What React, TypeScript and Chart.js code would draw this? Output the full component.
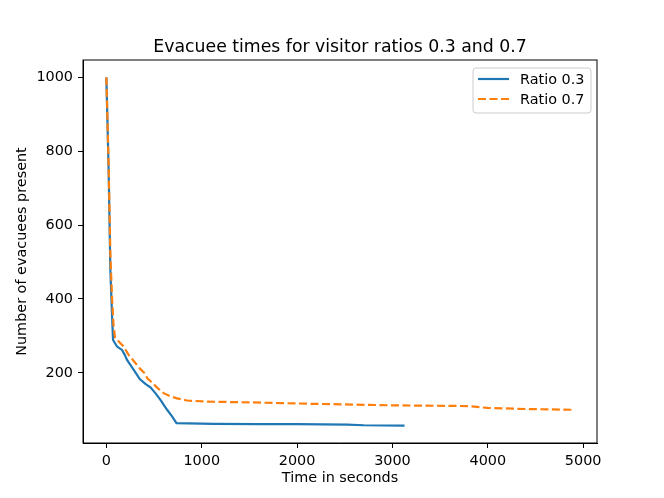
import { useEffect, useRef } from 'react';
import { Chart, registerables } from 'chart.js';

Chart.register(...registerables);

const CHART_TITLE = 'Evacuee times for visitor ratios 0.3 and 0.7';
const seriesNames = ['Ratio 0.3', 'Ratio 0.7'];

// Ratio 0.3: time (s) and number present
const timesLow = [
  0, 24, 42, 60, 70, 112, 140, 164, 190, 217, 250, 287, 320, 350, 409, 462, 514, 567, 600, 637, 689,
  735, 1126, 1600, 2000, 2525, 2700, 3127,
];
const countsLow = [
  1000, 746, 478, 352, 289, 271, 266, 262, 250, 235, 222, 208, 195, 183, 170, 161, 145, 127, 114,
  100, 82, 64, 62, 61, 61, 60, 58, 57,
];

// Ratio 0.7
const timesHigh = [
  0, 24, 42, 60, 75, 90, 130, 182, 230, 287, 350, 409, 427, 470, 532, 601, 672, 742, 847, 1056, 1500,
  1826, 2176, 3000, 3785, 3995, 4400, 4890,
];
const countsHigh = [
  1000, 760, 520, 400, 330, 296, 285, 271, 250, 232, 212, 197, 186, 176, 160, 145, 136, 131, 125,
  122, 120, 118, 116, 112, 110, 105, 102, 100,
];

const xTicks = [0, 1000, 2000, 3000, 4000, 5000];
const yTicks = [200, 400, 600, 800, 1000];

const BLUE = '#1f77b4';
const ORANGE = '#ff7f0e';
const FONT = 'DejaVu Sans';
const DASH = [8, 3.5];

const framePlugin = {
  id: 'frame',
  afterDraw(chart: Chart) {
    const { ctx, chartArea } = chart;
    const { left, top, right, bottom } = chartArea;
    ctx.save();
    // spines
    ctx.strokeStyle = '#000';
    ctx.lineWidth = 1;
    ctx.strokeRect(left, top, right - left, bottom - top);

    // title
    ctx.fillStyle = '#000';
    ctx.font = `17.3px "${FONT}"`;
    ctx.textAlign = 'center';
    ctx.textBaseline = 'alphabetic';
    ctx.fillText(CHART_TITLE, (left + right) / 2, 52);

    // legend, matplotlib style
    const bx = right - 124;
    const by = top + 8;
    const bw = 118;
    const bh = 45;
    ctx.beginPath();
    ctx.roundRect(bx, by, bw, bh, 3);
    ctx.fillStyle = 'rgba(255,255,255,0.8)';
    ctx.fill();
    ctx.strokeStyle = '#cccccc';
    ctx.lineWidth = 1;
    ctx.stroke();

    const colors = [BLUE, ORANGE];
    const dashes = [[], DASH];
    ctx.font = `14.4px "${FONT}"`;
    ctx.textAlign = 'left';
    ctx.textBaseline = 'middle';
    seriesNames.forEach((name, i) => {
      const y = by + 11 + i * 20;
      ctx.beginPath();
      ctx.setLineDash(dashes[i]);
      ctx.strokeStyle = colors[i];
      ctx.lineWidth = 2.2;
      ctx.moveTo(bx + 5, y);
      ctx.lineTo(bx + 36, y);
      ctx.stroke();
      ctx.setLineDash([]);
      ctx.fillStyle = '#000';
      ctx.fillText(name, bx + 47, y + 1);
    });
    ctx.restore();
  },
};

const App = () => {
  const canvasRef = useRef<HTMLCanvasElement | null>(null);

  useEffect(() => {
    document.body.style.margin = '0';
    const canvas = canvasRef.current;
    if (!canvas) return;

    Chart.defaults.font.family = FONT;
    Chart.defaults.color = '#000';

    const tickLabel = (v: string | number) => String(v);

    const chart = new Chart(canvas, {
      type: 'line',
      data: {
        datasets: [
          {
            label: seriesNames[0],
            data: timesLow.map((t, i) => ({ x: t, y: countsLow[i] })),
            borderColor: BLUE,
            backgroundColor: BLUE,
            borderWidth: 2.2,
            pointRadius: 0,
            tension: 0,
            order: 1, // drawn underneath the orange line
          },
          {
            label: seriesNames[1],
            data: timesHigh.map((t, i) => ({ x: t, y: countsHigh[i] })),
            borderColor: ORANGE,
            backgroundColor: ORANGE,
            borderWidth: 2.2,
            borderDash: DASH,
            pointRadius: 0,
            tension: 0,
            order: 0,
          },
        ],
      },
      options: {
        responsive: false,
        animation: false,
        devicePixelRatio: 1,
        layout: { padding: { left: 0, right: 67, top: 60, bottom: 0 } },
        plugins: {
          legend: { display: false },
          title: { display: false },
          tooltip: { enabled: false },
        },
        scales: {
          x: {
            type: 'linear',
            min: -245,
            max: 5145,
            afterBuildTicks: (scale: any) => {
              scale.ticks = xTicks.map((v) => ({ value: v }));
            },
            afterFit: (scale: any) => {
              scale.height = 55;
            },
            grid: {
              drawOnChartArea: false,
              drawTicks: true,
              tickLength: 5,
              tickColor: '#000',
            },
            border: { display: true, color: '#000' },
            ticks: { font: { size: 14.4 }, padding: 5, maxRotation: 0, callback: tickLabel },
            title: {
              display: true,
              text: 'Time in seconds',
              font: { size: 14.4 },
              padding: { top: 0, bottom: 11 },
            },
          },
          y: {
            type: 'linear',
            min: 10,
            max: 1047,
            afterBuildTicks: (scale: any) => {
              scale.ticks = yTicks.map((v) => ({ value: v }));
            },
            afterFit: (scale: any) => {
              scale.width = 83;
            },
            grid: {
              drawOnChartArea: false,
              drawTicks: true,
              tickLength: 5,
              tickColor: '#000',
            },
            border: { display: true, color: '#000' },
            ticks: { font: { size: 14.4 }, padding: 5, callback: tickLabel },
            title: {
              display: true,
              text: 'Number of evacuees present',
              font: { size: 14.4 },
              padding: { top: 14, bottom: 0 },
            },
          },
        },
      },
      plugins: [framePlugin],
    });

    return () => chart.destroy();
  }, []);

  return (
    <div style={{ width: 664, height: 498 }}>
      <canvas ref={canvasRef} width={664} height={498} />
    </div>
  );
};

export default App;
